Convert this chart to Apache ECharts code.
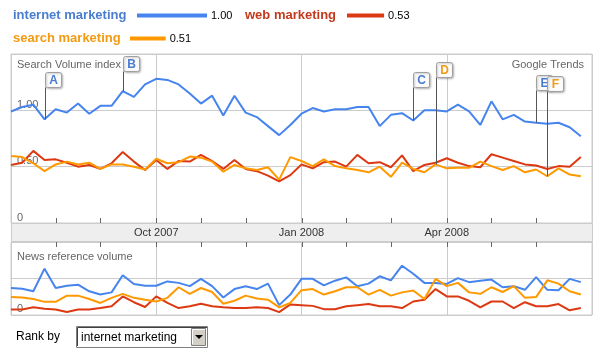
<!DOCTYPE html>
<html><head><meta charset="utf-8">
<script src="https://cdn.jsdelivr.net/npm/echarts@6/dist/echarts.min.js"></script>
<style>html,body{margin:0;padding:0;background:#fff}#c{width:607px;height:357px}</style>
</head><body><div id="c"></div>
<script>
// ---------- data ----------
const seriesNames = ['internet marketing', 'web marketing', 'search marketing'];
const seriesTotals = [1.00, 0.53, 0.51];
// weekly search volume index (Jul 2007 - Jun 2008), 52 weeks
const internetSearch = [0.99,1.03,1.05,0.92,1.01,0.98,1.06,0.97,1.04,1.04,1.17,1.12,1.23,1.28,1.27,1.23,1.15,1.06,1.13,0.955,1.13,0.98,0.94,0.86,0.78,0.87,0.97,1.02,0.99,1.01,1.01,1.03,1.03,0.86,0.96,0.975,0.91,1.00,1.00,0.99,1.05,0.99,0.87,1.08,0.92,0.96,0.90,0.89,0.88,0.89,0.85,0.77];
const webSearch = [0.515,0.535,0.64,0.56,0.565,0.535,0.50,0.515,0.48,0.53,0.63,0.545,0.47,0.56,0.48,0.55,0.545,0.605,0.55,0.48,0.56,0.48,0.46,0.42,0.37,0.425,0.52,0.485,0.54,0.545,0.50,0.605,0.53,0.54,0.495,0.60,0.46,0.515,0.535,0.575,0.535,0.505,0.495,0.61,0.58,0.55,0.52,0.51,0.48,0.505,0.50,0.585];
const searchSearch = [0.595,0.585,0.53,0.46,0.52,0.545,0.52,0.535,0.48,0.52,0.52,0.50,0.475,0.57,0.53,0.54,0.59,0.58,0.545,0.455,0.515,0.485,0.47,0.495,0.385,0.585,0.55,0.505,0.565,0.505,0.485,0.47,0.45,0.50,0.41,0.535,0.48,0.45,0.52,0.485,0.49,0.49,0.545,0.505,0.47,0.505,0.45,0.475,0.415,0.485,0.43,0.415];
// weekly news reference volume
const internetNews = [0.74,0.72,0.65,1.27,0.74,0.80,0.83,0.65,0.56,0.62,1.09,0.85,0.80,0.80,0.92,0.88,0.79,0.99,0.79,0.48,0.71,0.79,0.71,0.86,0.27,0.56,0.99,0.99,0.81,0.94,1.03,0.79,0.86,1.06,0.95,1.35,1.13,0.88,0.88,0.85,1.01,0.90,0.94,0.97,0.76,0.79,0.69,1.04,0.69,0.68,0.99,0.90];
const webNews = [0.15,0.15,0.21,0.17,0.15,0.08,0.15,0.15,0.19,0.24,0.51,0.35,0.22,0.51,0.33,0.19,0.24,0.31,0.24,0.21,0.19,0.19,0.21,0.19,0.08,0.29,0.27,0.25,0.16,0.16,0.24,0.27,0.30,0.24,0.24,0.19,0.37,0.42,0.71,0.51,0.51,0.39,0.21,0.37,0.37,0.19,0.35,0.24,0.24,0.30,0.13,0.19];
const searchNews = [0.49,0.48,0.44,0.36,0.36,0.53,0.53,0.44,0.33,0.47,0.58,0.47,0.42,0.37,0.47,0.76,0.58,0.74,0.63,0.31,0.39,0.53,0.45,0.42,0.21,0.33,0.68,0.71,0.56,0.65,0.76,0.76,0.56,0.69,0.53,0.62,0.67,0.44,0.99,0.79,0.88,0.62,0.58,0.76,0.63,0.79,0.47,0.49,0.95,0.86,0.65,0.56];
// axis: week positions of month starts, and quarter labels
const monthTickWeeks = [4,8,13,17,21,26,30,34,39,43,47];
const quarterWeeks = [13, 26, 39];
const quarterLabels = ['Oct 2007', 'Jan 2008', 'Apr 2008'];
const yTickLabels = ['0', '0.50', '1.00'];
// news annotations
const flagLetters = ['A','B','C','D','E','F'];
const flagWeeks = [3, 10, 36, 38, 47, 48];
const flagSeries = [0, 0, 0, 2, 0, 2];

// ---------- styles / layout ----------
const colors = ['#4684ee', '#dc3912', '#ff9900'];
const textColors = ['#4a7dcf', '#c23a1c', '#f29a12'];
const FONT = '"Liberation Sans", Arial, sans-serif';
const flagTopOffsets = [18, 2, 18, 8, 21, 22];
const searchSets = [internetSearch, webSearch, searchSearch];
const newsSets = [internetNews, webNews, searchNews];
const toXY = arr => arr.map((v, i) => [i, v]);

const chart = echarts.init(document.getElementById('c'), null, {renderer: 'canvas'});

const xBase = (grid, labels) => ({
  gridIndex: grid, type: 'value', min: 0, max: 52, interval: 13, position: 'bottom',
  axisLine: {show: false, onZero: false}, axisTick: {show: false},
  splitLine: {show: true, lineStyle: {color: '#cccccc', width: 1}},
  axisLabel: labels ? {
    show: true, margin: 4, color: '#333', fontSize: 11, fontFamily: FONT,
    formatter: v => { const k = quarterWeeks.indexOf(v); return k >= 0 ? quarterLabels[k] : ''; }
  } : {show: false}
});

const lineSeries = [];
searchSets.forEach((d, k) => lineSeries.push({
  type: 'line', name: seriesNames[k], xAxisIndex: 0, yAxisIndex: 0, data: toXY(d),
  symbol: 'none', lineStyle: {color: colors[k], width: 2}, z: 2 + k, animation: false
}));
newsSets.forEach((d, k) => lineSeries.push({
  type: 'line', name: seriesNames[k] + ' news', xAxisIndex: 1, yAxisIndex: 1, data: toXY(d),
  symbol: 'none', lineStyle: {color: colors[k], width: 2}, z: 2 + k, animation: false
}));

// month ticks: at bottom of the search chart (pointing up) and at top of the news chart (pointing down)
const tickSeries = (xi, yi, yVal, dir) => ({
  type: 'custom', xAxisIndex: xi, yAxisIndex: yi, z: 5, animation: false, silent: true, clip: false,
  data: monthTickWeeks.map(w => [w, yVal]),
  renderItem: (params, api) => {
    const p = api.coord([api.value(0), api.value(1)]);
    const x = Math.round(p[0]) + 0.5;
    return {type: 'line', shape: {x1: x, y1: p[1], x2: x, y2: p[1] + dir * 5}, style: {stroke: '#666', lineWidth: 1}};
  }
});
lineSeries.push(tickSeries(0, 0, 0, -1), tickSeries(1, 1, 2, 1));

lineSeries.push({
  type: 'custom', xAxisIndex: 0, yAxisIndex: 0, z: 10, animation: false, clip: false,
  data: flagWeeks.map((w, i) => [w, searchSets[flagSeries[i]][w]]),
  renderItem: (params, api) => {
    const i = params.dataIndex;
    const pt = api.coord([api.value(0), api.value(1)]);
    const x = Math.round(pt[0]) + 0.5;
    const top = params.coordSys.y + flagTopOffsets[i] + 0.5;
    const w = 16, h = 15;
    return {type: 'group', children: [
      {type: 'line', shape: {x1: x, y1: top + h, x2: x, y2: pt[1]}, style: {stroke: '#555', lineWidth: 1}},
      {type: 'rect', shape: {x: x, y: top, width: w, height: h, r: 2},
        style: {fill: '#fbfbfb', stroke: '#a0a0a0', lineWidth: 1, shadowBlur: 2, shadowOffsetX: 1, shadowOffsetY: 1, shadowColor: 'rgba(0,0,0,0.25)'}},
      {type: 'text', style: {text: flagLetters[i], x: x + w / 2, y: top + h / 2 + 0.5, align: 'center', verticalAlign: 'middle',
        font: 'bold 12px ' + FONT, fill: textColors[flagSeries[i]]}}
    ]};
  }
});

// legend graphics (bar length proportional to total)
const legendPos = [{x: 13, y: 15, bar: 137}, {x: 245, y: 15, bar: 347}, {x: 13, y: 38, bar: 130}];
const graphics = [];
seriesNames.forEach((n, k) => {
  const p = legendPos[k];
  const len = seriesTotals[k] * 70;
  graphics.push({type: 'text', z: 20, style: {text: n, x: p.x, y: p.y, verticalAlign: 'middle', font: 'bold 13px ' + FONT, fill: textColors[k]}});
  graphics.push({type: 'rect', z: 20, shape: {x: p.bar, y: p.y - 1.5, width: len, height: 4}, style: {fill: colors[k]}});
  graphics.push({type: 'text', z: 20, style: {text: seriesTotals[k].toFixed(2), x: p.bar + len + 4, y: p.y + 0.5, verticalAlign: 'middle', font: '11px ' + FONT, fill: '#000'}});
});
graphics.push(
  {type: 'rect', z: -100, shape: {x: 11.5, y: 223.5, width: 581, height: 18}, style: {fill: '#eeeeee', stroke: '#cccccc', lineWidth: 1}},
  {type: 'text', z: 20, style: {text: 'Search Volume index', x: 17, y: 65, verticalAlign: 'middle', font: '11px ' + FONT, fill: '#666'}},
  {type: 'text', z: 20, style: {text: 'Google Trends', x: 584, y: 65, align: 'right', verticalAlign: 'middle', font: '11px ' + FONT, fill: '#666'}},
  {type: 'text', z: 20, style: {text: 'News reference volume', x: 17, y: 257, verticalAlign: 'middle', font: '11px ' + FONT, fill: '#666'}},
  {type: 'text', z: 20, style: {text: 'Rank by', x: 16, y: 337, verticalAlign: 'middle', font: '12px ' + FONT, fill: '#000'}},
  {type: 'rect', z: 20, shape: {x: 76.5, y: 326.5, width: 131, height: 21}, style: {fill: '#fff', stroke: '#808080', lineWidth: 1}},
  {type: 'polyline', z: 21, shape: {points: [[77.5, 346], [77.5, 327.5], [207, 327.5]]}, style: {stroke: '#404040', lineWidth: 1, fill: null}},
  {type: 'text', z: 21, style: {text: 'internet marketing', x: 81, y: 337.5, verticalAlign: 'middle', font: '12px ' + FONT, fill: '#000'}},
  {type: 'rect', z: 21, shape: {x: 191.5, y: 328.5, width: 14, height: 17}, style: {fill: '#d4d0c8', stroke: '#808080', lineWidth: 1}},
  {type: 'polyline', z: 22, shape: {points: [[192.5, 344], [192.5, 329.5], [205, 329.5]]}, style: {stroke: '#ffffff', lineWidth: 1, fill: null}},
  {type: 'polygon', z: 22, shape: {points: [[195, 335], [203, 335], [199, 339]]}, style: {fill: '#000'}}
);

chart.setOption({
  animation: false,
  backgroundColor: '#fff',
  grid: [
    {left: 11, top: 54, width: 581, height: 169, show: true, borderColor: '#cccccc', borderWidth: 1, backgroundColor: '#fff', containLabel: false},
    {left: 11, top: 242, width: 581, height: 73, show: true, borderColor: '#cccccc', borderWidth: 1, backgroundColor: '#fff', containLabel: false}
  ],
  xAxis: [xBase(0, true), xBase(1, false)],
  yAxis: [
    {gridIndex: 0, type: 'value', min: 0, max: 1.5, interval: 0.5,
      axisLine: {show: false}, axisTick: {show: false},
      splitLine: {show: true, lineStyle: {color: '#cccccc'}},
      axisLabel: {inside: true, margin: 6, verticalAlign: 'bottom', color: '#666', fontSize: 11, fontFamily: FONT,
        formatter: v => { const k = Math.round(v / 0.5); return k < yTickLabels.length ? yTickLabels[k] : ''; }}},
    {gridIndex: 1, type: 'value', min: 0, max: 2, interval: 1,
      axisLine: {show: false}, axisTick: {show: false},
      splitLine: {show: true, lineStyle: {color: '#cccccc'}},
      axisLabel: {inside: true, margin: 6, verticalAlign: 'bottom', color: '#666', fontSize: 11, fontFamily: FONT, padding: [0, 0, 1, 0],
        formatter: v => v === 0 ? yTickLabels[0] : ''}}
  ],
  graphic: graphics,
  series: lineSeries
});
</script>
</body></html>
